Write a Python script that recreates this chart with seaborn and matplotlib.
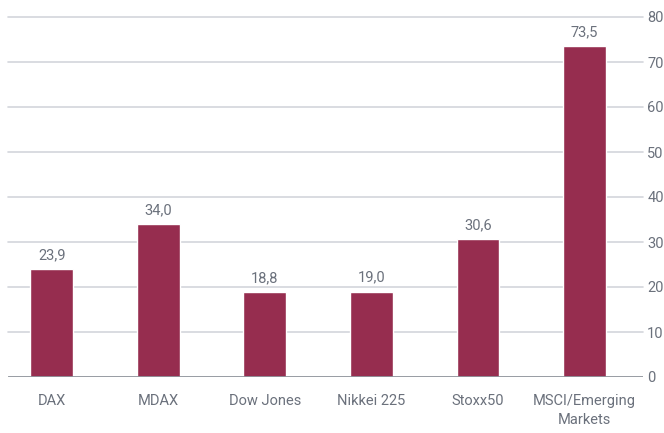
import matplotlib
matplotlib.use("Agg")
import matplotlib.pyplot as plt
import seaborn as sns
import pandas as pd

categories = ["DAX", "MDAX", "Dow Jones", "Nikkei 225", "Stoxx50", "MSCI/Emerging\nMarkets"]
values = [23.9, 34.0, 18.8, 19.0, 30.6, 73.5]
yticks = [0, 10, 20, 30, 40, 50, 60, 70, 80]

sns.set_theme(style="white")
plt.rcParams['font.family'] = ['Roboto', 'DejaVu Sans']

text_color = "#6b717c"
bar_color = "#962d4f"

df = pd.DataFrame({"cat": categories, "val": values})

fig = plt.figure(figsize=(6.64, 4.33), dpi=100)
ax = fig.add_axes([8/664, (433-377)/433, (643-8)/664, (377-17)/433])

sns.barplot(data=df, x="cat", y="val", color=bar_color, width=0.4, saturation=1, ax=ax, zorder=3)

ax.set_ylim(0, 80)
ax.set_xlim(-0.41, 5.55)
ax.set_yticks(yticks)
ax.set_yticklabels([str(t) for t in yticks])
ax.yaxis.tick_right()
for y in yticks[1:]:
    ax.axhline(y, color="#d3d6dc", lw=1.2, zorder=1, clip_on=False)
ax.axhline(0, color="#8e939b", lw=2, zorder=4)

for s in ax.spines.values():
    s.set_visible(False)

ax.tick_params(axis="y", length=0, pad=3, labelsize=10.5, labelcolor=text_color)
ax.tick_params(axis="x", length=0, pad=12, labelsize=10.5, labelcolor=text_color)
for lbl in ax.get_xticklabels():
    lbl.set_linespacing(1.45)
ax.set_xlabel("")
ax.set_ylabel("")

for i, v in enumerate(values):
    ax.text(i, v + 1.6, f"{v:.1f}".replace(".", ","), ha="center", va="bottom",
            fontsize=10.5, color=text_color)

fig.savefig("out.png", dpi=100)
